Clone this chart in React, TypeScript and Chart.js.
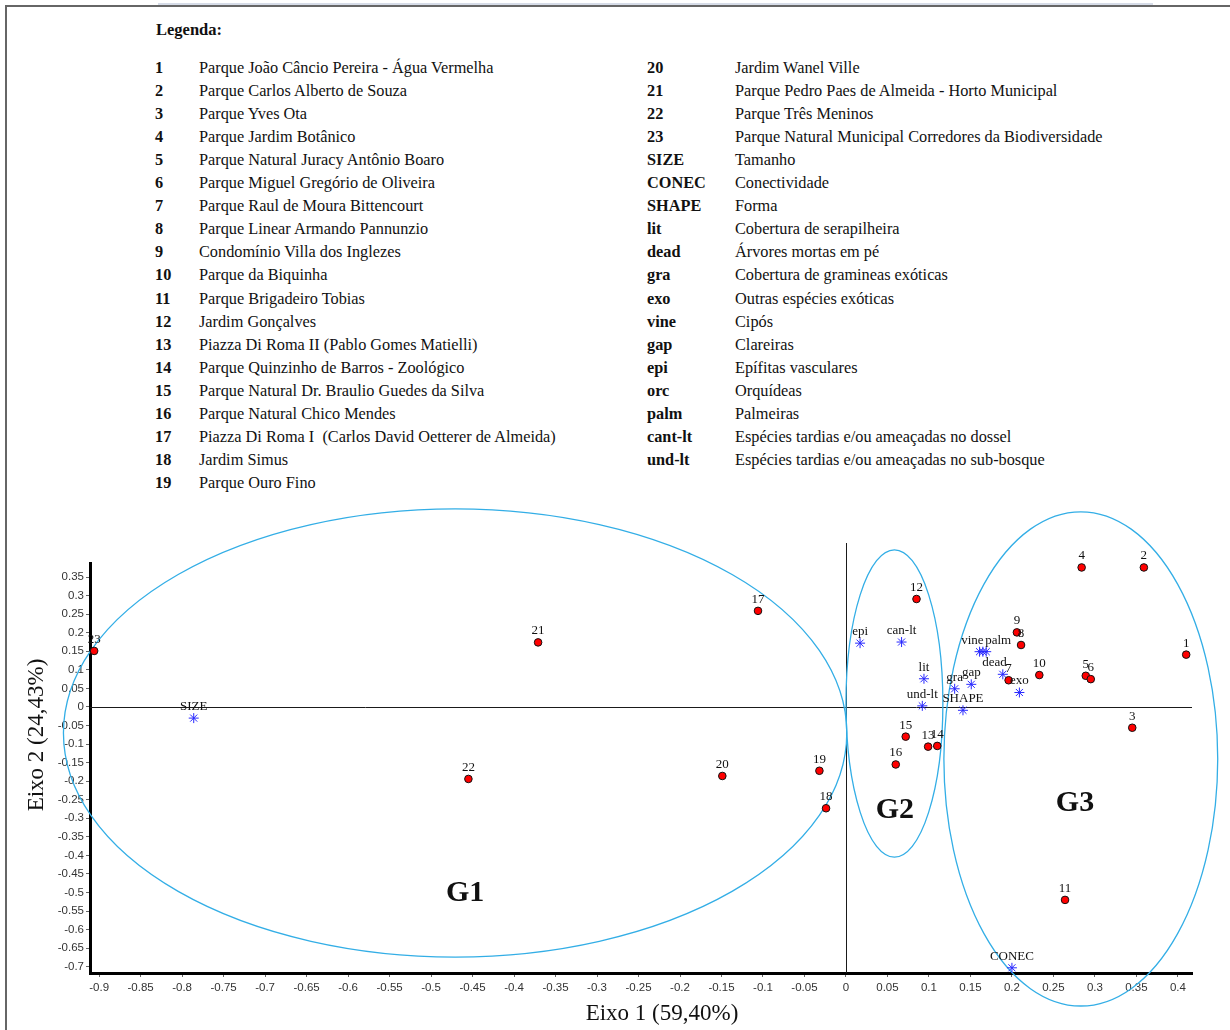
import React, { useEffect, useRef } from 'react';
import { Chart, registerables } from 'chart.js';

Chart.register(...registerables);

// ---------- data ----------
const siteLabels = ['1', '2', '3', '4', '5', '6', '7', '8', '9', '10', '11', '12', '13', '14', '15', '16', '17', '18', '19', '20', '21', '22', '23'];
const siteX = [0.410, 0.359, 0.345, 0.284, 0.289, 0.295, 0.196, 0.211, 0.206, 0.233, 0.264, 0.085, 0.099, 0.110, 0.072, 0.060, -0.106, -0.024, -0.032, -0.149, -0.371, -0.455, -0.906];
const siteY = [0.141, 0.376, -0.056, 0.376, 0.084, 0.075, 0.072, 0.167, 0.201, 0.086, -0.520, 0.291, -0.107, -0.105, -0.080, -0.155, 0.259, -0.273, -0.172, -0.186, 0.174, -0.194, 0.151];

const varLabels = ['SIZE', 'CONEC', 'SHAPE', 'lit', 'dead', 'gra', 'exo', 'vine', 'gap', 'epi', 'orc', 'palm', 'can-lt', 'und-lt'];
const varX = [-0.786, 0.200, 0.141, 0.094, 0.189, 0.131, 0.209, 0.161, 0.151, 0.017, 0.165, 0.169, 0.067, 0.092];
const varY = [-0.030, -0.703, -0.009, 0.076, 0.088, 0.049, 0.039, 0.149, 0.061, 0.172, 0.149, 0.149, 0.175, 0.003];

const groupNames = ['G1', 'G2', 'G3'];
const groupCenterX = [-0.471, 0.0584, 0.283];
const groupCenterY = [-0.070, 0.0094, -0.140];
const groupRadiusX = [0.472, 0.0584, 0.165];
const groupRadiusY = [0.604, 0.414, 0.666];
const groupLabelX = [-0.459, 0.059, 0.276];
const groupLabelY = [-0.501, -0.278, -0.259];

const xTicks = [-0.9, -0.85, -0.8, -0.75, -0.7, -0.65, -0.6, -0.55, -0.5, -0.45, -0.4, -0.35, -0.3, -0.25, -0.2, -0.15, -0.1, -0.05, 0, 0.05, 0.1, 0.15, 0.2, 0.25, 0.3, 0.35, 0.4];
const xTickLabels = ['-0.9', '-0.85', '-0.8', '-0.75', '-0.7', '-0.65', '-0.6', '-0.55', '-0.5', '-0.45', '-0.4', '-0.35', '-0.3', '-0.25', '-0.2', '-0.15', '-0.1', '-0.05', '0', '0.05', '0.1', '0.15', '0.2', '0.25', '0.3', '0.35', '0.4'];
const yTicks = [-0.7, -0.65, -0.6, -0.55, -0.5, -0.45, -0.4, -0.35, -0.3, -0.25, -0.2, -0.15, -0.1, -0.05, 0, 0.05, 0.1, 0.15, 0.2, 0.25, 0.3, 0.35];
const yTickLabels = ['-0.7', '-0.65', '-0.6', '-0.55', '-0.5', '-0.45', '-0.4', '-0.35', '-0.3', '-0.25', '-0.2', '-0.15', '-0.1', '-0.05', '0', '0.05', '0.1', '0.15', '0.2', '0.25', '0.3', '0.35'];

const xAxisTitle = 'Eixo 1 (59,40%)';
const yAxisTitle = 'Eixo 2 (24,43%)';

const legendTitle = 'Legenda:';
const legendLeftCodes = ['1', '2', '3', '4', '5', '6', '7', '8', '9', '10', '11', '12', '13', '14', '15', '16', '17', '18', '19'];
const legendLeftNames = [
  'Parque João Câncio Pereira - Água Vermelha',
  'Parque Carlos Alberto de Souza',
  'Parque Yves Ota',
  'Parque Jardim Botânico',
  'Parque Natural Juracy Antônio Boaro',
  'Parque Miguel Gregório de Oliveira',
  'Parque Raul de Moura Bittencourt',
  'Parque Linear Armando Pannunzio',
  'Condomínio Villa dos Inglezes',
  'Parque da Biquinha',
  'Parque Brigadeiro Tobias',
  'Jardim Gonçalves',
  'Piazza Di Roma II (Pablo Gomes Matielli)',
  'Parque Quinzinho de Barros - Zoológico',
  'Parque Natural Dr. Braulio Guedes da Silva',
  'Parque Natural Chico Mendes',
  'Piazza Di Roma I\u00a0 (Carlos David Oetterer de Almeida)',
  'Jardim Simus',
  'Parque Ouro Fino',
];
const legendRightCodes = ['20', '21', '22', '23', 'SIZE', 'CONEC', 'SHAPE', 'lit', 'dead', 'gra', 'exo', 'vine', 'gap', 'epi', 'orc', 'palm', 'cant-lt', 'und-lt'];
const legendRightNames = [
  'Jardim Wanel Ville',
  'Parque Pedro Paes de Almeida - Horto Municipal',
  'Parque Três Meninos',
  'Parque Natural Municipal Corredores da Biodiversidade',
  'Tamanho',
  'Conectividade',
  'Forma',
  'Cobertura de serapilheira',
  'Árvores mortas em pé',
  'Cobertura de gramineas exóticas',
  'Outras espécies exóticas',
  'Cipós',
  'Clareiras',
  'Epífitas vasculares',
  'Orquídeas',
  'Palmeiras',
  'Espécies tardias e/ou ameaçadas no dossel',
  'Espécies tardias e/ou ameaçadas no sub-bosque',
];

// label alignment tweaks (style only)
const labelAlign: Record<string, string> = { vine: 'right', palm: 'left', dead: 'right', orc: 'none' };

const SERIF = '"Liberation Serif", "Times New Roman", serif';
const SANS = '"Liberation Sans", Arial, sans-serif';

const overlayPlugin = {
  id: 'pcaOverlay',
  beforeDatasetsDraw(chart: any) {
    const { ctx, chartArea } = chart;
    const xs = chart.scales.x;
    const ys = chart.scales.y;
    ctx.save();
    // zero lines
    ctx.strokeStyle = '#1a1a1a';
    ctx.lineWidth = 1;
    const x0 = Math.round(xs.getPixelForValue(0)) + 0.5;
    const y0 = Math.round(ys.getPixelForValue(0)) + 0.5;
    ctx.beginPath();
    ctx.moveTo(x0, chartArea.top - 20);
    ctx.lineTo(x0, chartArea.bottom);
    ctx.moveTo(chartArea.left, y0);
    ctx.lineTo(chartArea.right, y0);
    ctx.stroke();
    // group ellipses
    ctx.strokeStyle = '#33aee6';
    ctx.lineWidth = 1.3;
    for (let i = 0; i < groupNames.length; i++) {
      const cx = xs.getPixelForValue(groupCenterX[i]);
      const cy = ys.getPixelForValue(groupCenterY[i]);
      const rx = Math.abs(xs.getPixelForValue(groupCenterX[i] + groupRadiusX[i]) - cx);
      const ry = Math.abs(ys.getPixelForValue(groupCenterY[i] + groupRadiusY[i]) - cy);
      ctx.beginPath();
      ctx.ellipse(cx, cy, rx, ry, 0, 0, Math.PI * 2);
      ctx.stroke();
    }
    ctx.restore();
  },
  afterDatasetsDraw(chart: any) {
    const { ctx } = chart;
    const xs = chart.scales.x;
    const ys = chart.scales.y;
    ctx.save();
    ctx.fillStyle = '#111';
    ctx.font = `13px ${SERIF}`;
    ctx.textBaseline = 'alphabetic';
    const labelSets = [siteLabels, varLabels];
    labelSets.forEach((labels, di) => {
      const meta = chart.getDatasetMeta(di);
      meta.data.forEach((el: any, i: number) => {
        const lab = labels[i];
        const al = labelAlign[lab] || 'center';
        if (al === 'none') return;
        let tx = el.x;
        if (al === 'right') { ctx.textAlign = 'right'; tx = el.x + 4; }
        else if (al === 'left') { ctx.textAlign = 'left'; tx = el.x - 1; }
        else ctx.textAlign = 'center';
        ctx.fillText(lab, tx, el.y - 8);
      });
    });
    // group labels
    ctx.font = `bold 30px ${SERIF}`;
    ctx.textAlign = 'center';
    ctx.textBaseline = 'middle';
    for (let i = 0; i < groupNames.length; i++) {
      ctx.fillText(groupNames[i], xs.getPixelForValue(groupLabelX[i]), ys.getPixelForValue(groupLabelY[i]));
    }
    ctx.restore();
  },
  afterDraw(chart: any) {
    const { ctx } = chart;
    ctx.save();
    ctx.fillStyle = '#111';
    ctx.font = `23px ${SERIF}`;
    ctx.textAlign = 'center';
    ctx.textBaseline = 'middle';
    ctx.fillText(xAxisTitle, 662, 519);
    ctx.translate(37, 240);
    ctx.rotate(-Math.PI / 2);
    ctx.fillText(yAxisTitle, 0, 0);
    ctx.restore();
  },
};

function PcaChart() {
  const ref = useRef<HTMLCanvasElement | null>(null);
  useEffect(() => {
    if (!ref.current) return;
    const chart = new Chart(ref.current, {
      type: 'scatter',
      data: {
        datasets: [
          {
            label: 'Parques',
            data: siteX.map((x, i) => ({ x, y: siteY[i] })),
            pointStyle: 'circle',
            pointRadius: 3.8,
            pointBackgroundColor: '#ff0000',
            pointBorderColor: '#111',
            pointBorderWidth: 1,
          },
          {
            label: 'Variáveis',
            data: varX.map((x, i) => ({ x, y: varY[i] })),
            pointStyle: 'star',
            pointRadius: 5,
            pointBackgroundColor: '#2828ff',
            pointBorderColor: '#2828ff',
            pointBorderWidth: 1,
          },
        ],
      },
      options: {
        animation: false,
        responsive: false,
        maintainAspectRatio: false,
        layout: { padding: { top: 68, right: 38, left: 0, bottom: 0 } },
        plugins: { legend: { display: false }, tooltip: { enabled: false }, title: { display: false } },
        scales: {
          x: {
            type: 'linear',
            min: -0.911,
            max: 0.417,
            afterBuildTicks: (s: any) => { s.ticks = xTicks.map((v) => ({ value: v })); },
            afterFit: (s: any) => { s.height = 57; },
            ticks: {
              callback: (_v: any, i: number) => xTickLabels[i],
              font: { family: SANS, size: 11.5 },
              color: '#333',
              padding: 4,
              maxRotation: 0,
              autoSkip: false,
            },
            grid: { drawOnChartArea: false, drawTicks: true, tickLength: 4, color: '#666', tickWidth: 1 },
            border: { display: true, color: '#000', width: 3 },
          },
          y: {
            type: 'linear',
            min: -0.717,
            max: 0.388,
            afterBuildTicks: (s: any) => { s.ticks = yTicks.map((v) => ({ value: v })); },
            afterFit: (s: any) => { s.width = 90; },
            ticks: {
              callback: (_v: any, i: number) => yTickLabels[i],
              font: { family: SANS, size: 11.5 },
              color: '#333',
              padding: 2,
              autoSkip: false,
            },
            grid: { drawOnChartArea: false, drawTicks: true, tickLength: 4, color: '#666', tickWidth: 1 },
            border: { display: true, color: '#000', width: 3 },
          },
        },
      },
      plugins: [overlayPlugin],
    } as any);
    return () => chart.destroy();
  }, []);
  return <canvas ref={ref} width={1230} height={535} style={{ width: 1230, height: 535, display: 'block' }} />;
}

const ROW = 23.1;
const FS = 16.3;

export default function App() {
  return (
    <div style={{ position: 'absolute', left: 0, top: 0, width: 1230, height: 1030, background: '#fff', overflow: 'hidden', fontFamily: SERIF, color: '#111' }}>
      <div style={{ position: 'absolute', left: 158, top: 3, width: 995, height: 2, background: '#d6dce8' }} />
      <div style={{ position: 'absolute', left: 5, top: 5, width: 1240, height: 1040, borderTop: '2px solid #666', borderLeft: '2px solid #666' }} />
      <div style={{ position: 'absolute', left: 156, top: 19, fontSize: 16.5, fontWeight: 'bold', lineHeight: '22px' }}>{legendTitle}</div>
      {legendLeftCodes.map((c, i) => (
        <React.Fragment key={'l' + i}>
          <div style={{ position: 'absolute', left: 155, top: 56.5 + i * ROW, fontSize: FS, fontWeight: 'bold', lineHeight: '22px', whiteSpace: 'pre' }}>{c}</div>
          <div style={{ position: 'absolute', left: 199, top: 56.5 + i * ROW, fontSize: FS, lineHeight: '22px', whiteSpace: 'pre' }}>{legendLeftNames[i]}</div>
        </React.Fragment>
      ))}
      {legendRightCodes.map((c, i) => (
        <React.Fragment key={'r' + i}>
          <div style={{ position: 'absolute', left: 647, top: 56.5 + i * ROW, fontSize: FS, fontWeight: 'bold', lineHeight: '22px', whiteSpace: 'pre' }}>{c}</div>
          <div style={{ position: 'absolute', left: 735, top: 56.5 + i * ROW, fontSize: FS, lineHeight: '22px', whiteSpace: 'pre' }}>{legendRightNames[i]}</div>
        </React.Fragment>
      ))}
      <div style={{ position: 'absolute', left: 0, top: 495, width: 1230, height: 535 }}>
        <PcaChart />
      </div>
    </div>
  );
}
